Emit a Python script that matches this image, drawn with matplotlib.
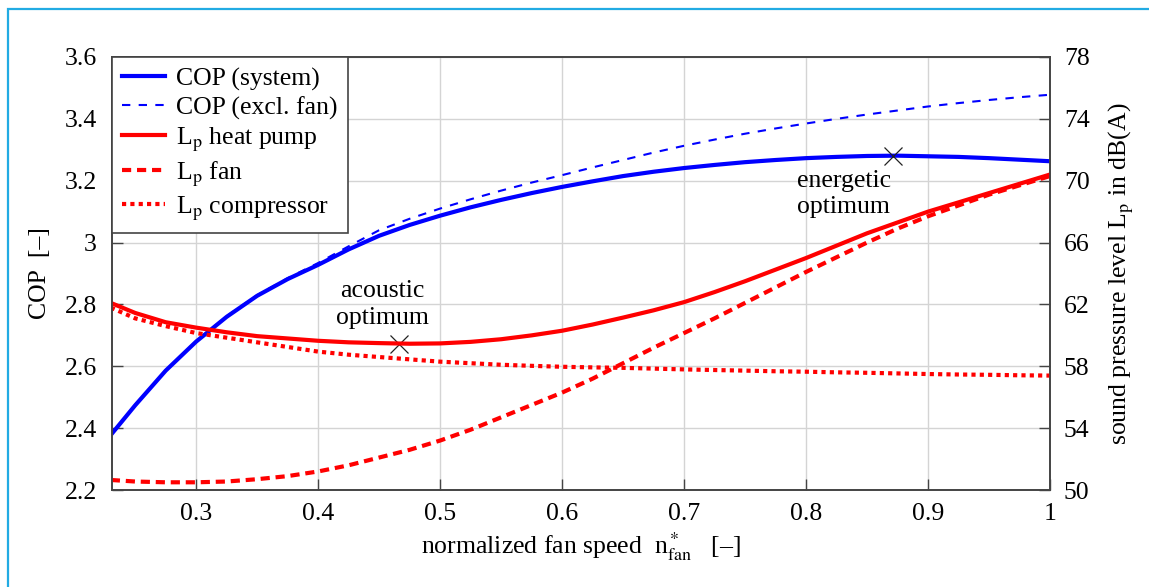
import matplotlib
matplotlib.use("Agg")
import matplotlib.pyplot as plt
from matplotlib.patches import Rectangle

plt.rcParams["font.family"] = ["Liberation Serif", "DejaVu Serif"]
plt.rcParams["mathtext.fontset"] = "stix"

# normalized fan speed
n_fan = [0.23, 0.25, 0.275, 0.30, 0.325, 0.35, 0.375, 0.40, 0.425, 0.45, 0.475,
         0.50, 0.525, 0.55, 0.575, 0.60, 0.625, 0.65, 0.675, 0.70, 0.725, 0.75,
         0.775, 0.80, 0.825, 0.85, 0.875, 0.90, 0.925, 0.95, 0.975, 1.00]

# COP (left axis)
cop_system = [2.378, 2.474, 2.586, 2.680, 2.760, 2.828, 2.882, 2.928, 2.978, 3.022, 3.057,
              3.087, 3.114, 3.138, 3.160, 3.180, 3.198, 3.215, 3.229, 3.241, 3.251, 3.260,
              3.267, 3.273, 3.277, 3.280, 3.281, 3.279, 3.277, 3.273, 3.268, 3.263]
cop_excl_fan = [2.378, 2.474, 2.586, 2.681, 2.762, 2.830, 2.885, 2.934, 2.988, 3.040, 3.077,
                3.110, 3.140, 3.168, 3.194, 3.218, 3.243, 3.267, 3.291, 3.313, 3.333, 3.352,
                3.369, 3.385, 3.400, 3.414, 3.427, 3.440, 3.451, 3.461, 3.470, 3.478]

# sound pressure level in dB(A) (right axis)
lp_heat_pump = [62.1, 61.45, 60.85, 60.5, 60.2, 59.95, 59.8, 59.65, 59.55, 59.5, 59.46,
                59.48, 59.58, 59.75, 60.0, 60.3, 60.7, 61.15, 61.62, 62.15, 62.8, 63.5,
                64.25, 65.0, 65.8, 66.6, 67.3, 68.0, 68.6, 69.2, 69.8, 70.4]
lp_fan = [50.65, 50.55, 50.5, 50.5, 50.55, 50.7, 50.9, 51.2, 51.6, 52.1, 52.6,
          53.2, 53.9, 54.7, 55.5, 56.3, 57.2, 58.2, 59.2, 60.15, 61.1, 62.1,
          63.1, 64.1, 65.05, 66.0, 66.9, 67.7, 68.4, 69.1, 69.7, 70.3]
lp_compressor = [61.8, 61.1, 60.6, 60.15, 59.85, 59.55, 59.25, 58.95, 58.75, 58.6, 58.45,
                 58.3, 58.2, 58.1, 58.03, 57.97, 57.93, 57.9, 57.85, 57.8, 57.76, 57.72,
                 57.68, 57.65, 57.61, 57.58, 57.54, 57.5, 57.47, 57.45, 57.42, 57.4]

# optimum points (n_fan, COP)
acoustic_opt = (0.466, 2.673)
energetic_opt = (0.871, 3.280)

x_ticks = [0.3, 0.4, 0.5, 0.6, 0.7, 0.8, 0.9, 1.0]
cop_ticks = [2.2, 2.4, 2.6, 2.8, 3.0, 3.2, 3.4, 3.6]
lp_ticks = [50, 54, 58, 62, 66, 70, 74, 78]

FS = 18.5
SPINE = "#444444"

fig = plt.figure(figsize=(11.49, 5.87), dpi=100)
ax = fig.add_axes([0.0975, 0.1652, 0.9138 - 0.0975, 0.9029 - 0.1652])
ax2 = ax.twinx()

style = dict(solid_joinstyle="round", dash_joinstyle="round")
h1, = ax.plot(n_fan, cop_system, color="blue", linewidth=3.0, label="COP (system)", **style)
h2, = ax.plot(n_fan, cop_excl_fan, color="blue", linewidth=1.5, dashes=(4, 4),
              label="COP (excl. fan)", **style)
h3, = ax2.plot(n_fan, lp_heat_pump, color="red", linewidth=3.0,
               label=r"L$_\mathrm{p}$ heat pump", **style)
h4, = ax2.plot(n_fan, lp_fan, color="red", linewidth=3.0, dashes=(2.2, 1.4),
               label=r"L$_\mathrm{p}$ fan", **style)
h5, = ax2.plot(n_fan, lp_compressor, color="red", linewidth=3.0, dashes=(1, 1),
               label=r"L$_\mathrm{p}$ compressor", **style)

for pt in (acoustic_opt, energetic_opt):
    ax.plot(pt[0], pt[1], marker="x", color="#222222", markersize=13,
            markeredgewidth=0.9, zorder=6)

ax.text(0.453, 2.80, "acoustic\noptimum", ha="center", va="center",
        fontsize=FS, linespacing=1.25, zorder=6)
ax.text(0.831, 3.157, "energetic\noptimum", ha="center", va="center",
        fontsize=FS, linespacing=1.25, zorder=6)

ax.set_xlim(0.231, 1.0)
ax.set_ylim(2.2, 3.6)
ax2.set_ylim(50, 78)

ax.set_xticks(x_ticks)
ax.set_xticklabels([f"{v:g}" for v in x_ticks])
ax.set_yticks(cop_ticks)
ax.set_yticklabels([f"{v:g}" for v in cop_ticks])
ax2.set_yticks(lp_ticks)
ax2.set_yticklabels([f"{v:g}" for v in lp_ticks])

ax.grid(True, color="#d4d4d4", linewidth=1.0)
ax.set_axisbelow(True)

ax.tick_params(axis="both", direction="in", length=8, width=1.0, color=SPINE,
               labelsize=FS, pad=9, top=False, right=False)
ax.tick_params(axis="y", pad=11)
ax2.tick_params(axis="y", direction="in", length=8, width=1.0, color=SPINE,
                labelsize=FS, pad=10)
for a in (ax, ax2):
    for s in a.spines.values():
        s.set_color(SPINE)
        s.set_linewidth(1.2)

ax.set_xlabel(r"normalized fan speed  n$^*_\mathrm{fan}$   [–]", fontsize=FS, labelpad=4)
ax.set_ylabel("COP  [–]", fontsize=FS, labelpad=10)
ax2.set_ylabel(r"sound pressure level L$_\mathrm{p}$ in dB(A)", fontsize=FS, labelpad=12)

leg = ax2.legend(handles=[h1, h2, h3, h4, h5], loc="upper left",
                 bbox_to_anchor=(0, 1), borderaxespad=0, fontsize=FS,
                 fancybox=False, framealpha=1, edgecolor=SPINE,
                 handlelength=1.65, handletextpad=0.45, labelspacing=0.22,
                 borderpad=0.4)
leg.get_frame().set_linewidth(1.2)

# light blue frame around the figure (cut off at right and bottom)
fig.patches.append(Rectangle((8 / 1149, -0.05), 1.2, 0.05 + 1 - 9 / 587,
                             transform=fig.transFigure, fill=False,
                             edgecolor="#22ABE3", linewidth=1.6))

fig.savefig("out.png", dpi=100)
